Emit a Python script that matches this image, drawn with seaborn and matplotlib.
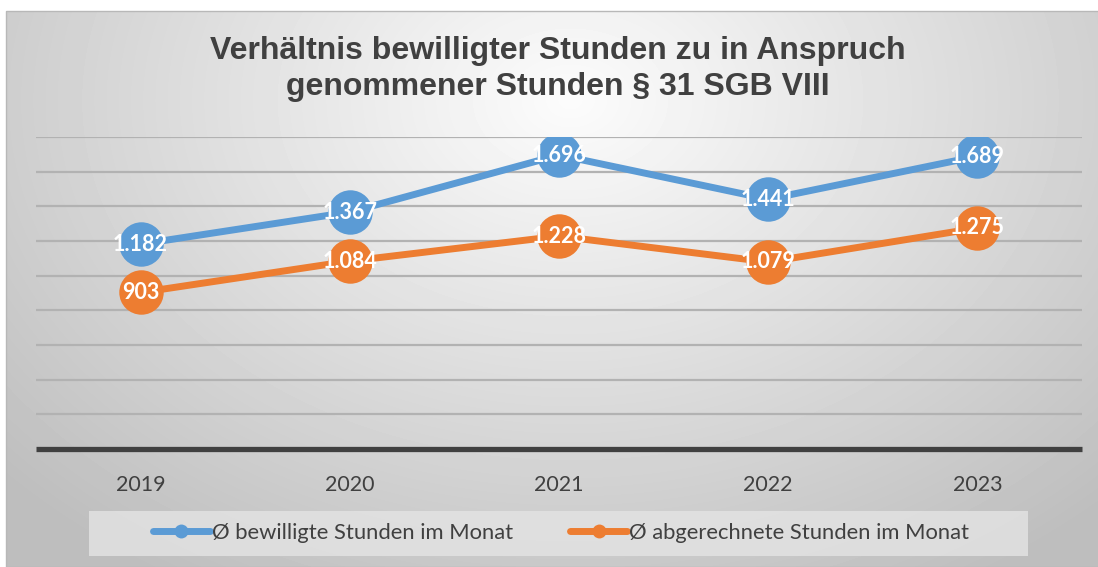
import numpy as np
import pandas as pd
import seaborn as sns
from matplotlib import pyplot as plt
from matplotlib.patches import Rectangle

years = ["2019", "2020", "2021", "2022", "2023"]
bewilligt = [1182, 1367, 1696, 1441, 1689]
abgerechnet = [903, 1084, 1228, 1079, 1275]
series_names = ["Ø bewilligte Stunden im Monat", "Ø abgerechnete Stunden im Monat"]
colors = ["#5B9BD5", "#ED7D31"]

df = pd.DataFrame({
    "Jahr": years * 2,
    "Serie": [series_names[0]] * len(years) + [series_names[1]] * len(years),
    "Stunden": bewilligt + abgerechnet,
})

def de_num(v):
    return f"{v:,}".replace(",", ".")

sns.set_theme(style="white")
plt.rcParams["font.family"] = ["Lato", "DejaVu Sans"]

W, H = 1098, 567
fig = plt.figure(figsize=(W / 100, H / 100), dpi=100)

# radial gradient background of the chart area
bg = fig.add_axes([6 / W, 0, 1 - 6 / W, 1 - 11 / H])
yy, xx = np.mgrid[11:H, 6:W]
d = np.sqrt(((xx - 570) / 760) ** 2 + ((yy - 100) / 560) ** 2)
shade = 252 - 62 * np.clip(d, 0, 1)
bg.imshow(shade, cmap="gray", vmin=0, vmax=255, aspect="auto",
          extent=[0, 1, 0, 1], interpolation="bilinear")
bg.set_axis_off()
fig.patches.append(Rectangle((6 / W, 0), 1, 1 - 11 / H, transform=fig.transFigure,
                             fill=False, edgecolor="#b8b8b8", lw=1))

ax = fig.add_axes([36 / W, (H - 449) / H, (1082 - 36) / W, (449 - 137) / H])
ax.set_facecolor("none")

sns.lineplot(data=df, x="Jahr", y="Stunden", hue="Serie", palette=colors,
             marker="o", markersize=32, markeredgewidth=0, linewidth=5,
             sort=False, ax=ax, zorder=3)

for vals in (bewilligt, abgerechnet):
    for i, v in enumerate(vals):
        ax.text(i, v, de_num(v), ha="center", va="center", color="white",
                fontsize=15.5, fontweight="bold", zorder=5)

ax.set_xlim(-0.5, len(years) - 0.5)
ax.set_ylim(0, 1800)
ax.set_yticks(range(200, 1801, 200))
ax.yaxis.grid(True, color="#b2b2b2", lw=1.6)
ax.set_axisbelow(True)
ax.tick_params(axis="y", left=False, labelleft=False)
ax.tick_params(axis="x", bottom=False, labelsize=15.5, labelcolor="#404040", pad=13)
ax.set_xlabel("")
ax.set_ylabel("")
for s in ["top", "left", "right"]:
    ax.spines[s].set_visible(False)
ax.spines["bottom"].set_color("#404040")
ax.spines["bottom"].set_linewidth(3.8)
ax.spines["bottom"].set_capstyle("butt")

handles, labels = ax.get_legend_handles_labels()
ax.get_legend().remove()

fig.text(558 / W, 1 - 69 / H,
         "Verhältnis bewilligter Stunden zu in Anspruch\ngenommener Stunden § 31 SGB VIII",
         ha="center", va="center", fontsize=23, fontweight="bold", color="#404040",
         family=["Liberation Sans", "DejaVu Sans"], linespacing=1.3)

fig.patches.append(Rectangle((89 / W, 1 - 556 / H), (1028 - 89) / W, 45 / H,
                             transform=fig.transFigure, facecolor="#e4e4e4",
                             edgecolor="none", alpha=0.8))
leg = fig.legend(handles, labels, loc="center", bbox_to_anchor=(561 / W, 1 - 533 / H),
                 ncol=2, frameon=False, fontsize=15.8, handlelength=2.6,
                 handletextpad=0.1, columnspacing=2.6, labelcolor="#404040")
for lh in leg.legend_handles:
    lh.set_markersize(10)
    lh.set_linewidth(5)

fig.savefig("out.png", dpi=100)
